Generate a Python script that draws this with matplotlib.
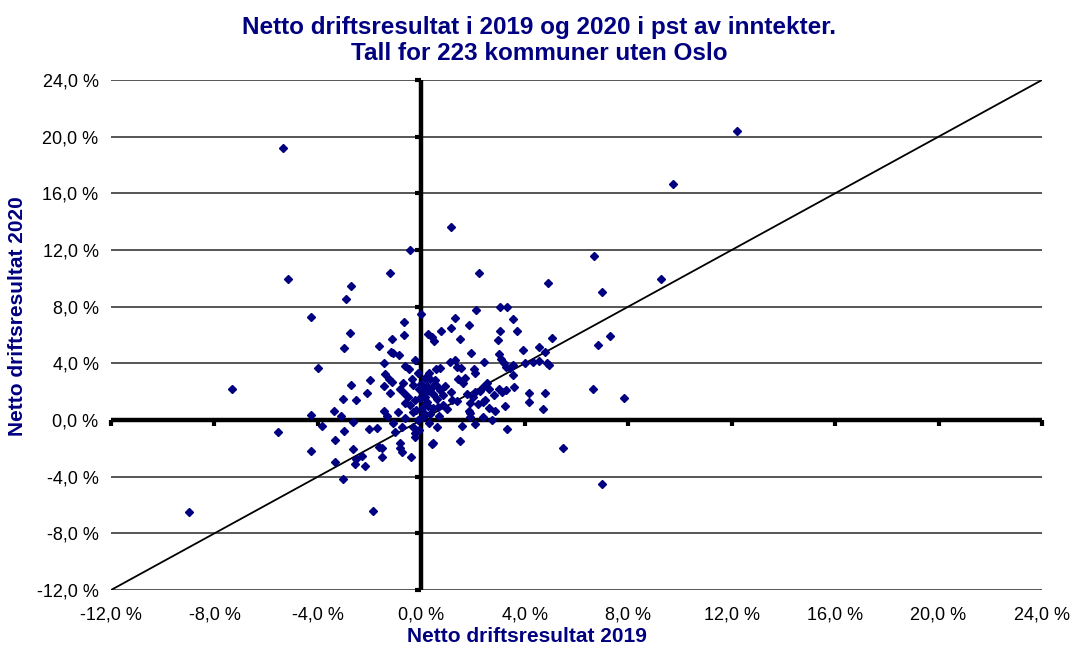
import numpy as np
import matplotlib
matplotlib.use("Agg")
import matplotlib.pyplot as plt
from matplotlib.ticker import FuncFormatter

plt.rcParams['font.family'] = ['Liberation Sans', 'DejaVu Sans']

# Netto driftsresultat (pst av inntekter), 2019 (x) og 2020 (y)
res_2019 = [
    -5.34, 12.2, 9.73, 1.16, -0.44, -1.22, -5.15, -2.72, -2.92, 2.24,
    2.1, 1.31, -0.02, -4.27, 6.69, 4.91, 9.28, 6.98, 3.06, 3.31,
    3.53, -0.69, -2.74, -0.69, 0.27, -2.98, -1.13, -1.64, -1.17, -0.86,
    -1.08, -0.24, -1.45, -4.01, -0.62, -0.49, -0.13, -1.39, -1.25, -1.98,
    -2.72, -1.45, -0.35, -0.31, 0.19, -7.32, -2.11, -1.21, -0.82, -0.69,
    -3.04, -2.51, -0.50, 0.01, -0.63, -0.44, 0.08, -3.39, -1.45, -0.89,
    -4.27, -3.12, -1.33, -0.31, -0.62, -0.14, -2.63, -1.08, -3.85, -0.75,
    -0.31, -2.01, -1.72, -5.54, -2.98, -1.02, -0.24, -0.11, -3.35, -0.82,
    -1.65, -1.52, -0.82, -2.63, -4.27, -0.76, -2.28, -1.53, -0.40, -2.54,
    -3.35, -2.55, -2.16, -3.04, -1.87, -9.0, -0.70, -1.15, 0.40, 0.50,
    0.75, 1.14, 1.84, 3.71, 3.04, 1.51, 2.98, 5.04, 3.92, 4.54,
    4.80, 1.91, 3.02, 3.08, 3.20, 3.28, 3.43, 1.11, 1.30, 2.42,
    1.37, 1.53, 2.03, 2.08, 0.57, 0.72, 4.01, 4.33, 4.56, 4.85,
    3.56, 1.43, 1.70, 0.14, 0.34, 0.53, -0.02, 0.21, 0.46, 2.54,
    2.37, 2.27, 3.60, 2.61, 2.99, 3.11, 3.28, 2.08, 1.14, 4.16,
    4.80, 6.63, 7.84, 0.72, 0.83, 0.05, 0.34, 0.46, -0.05, 0.14,
    0.21, 1.76, 2.01, 2.82, 1.18, 1.37, 1.90, 2.37, 2.46, 3.22,
    4.16, 2.63, 2.85, 1.86, 4.72, 0.46, 0.66, 0.83, -0.20, 1.88,
    1.88, 2.40, 2.75, 0.08, 0.31, 0.62, 1.57, 2.08, 3.30, -0.24,
    0.46, 0.40, 1.48, 5.49, 6.98, 6.82, 7.30, 3.55, 4.95, 0.25,
    0.60, 0.90, 0.10, -0.10, 0.35, 0.70, 1.00, 0.55, -0.25, 0.30,
    0.15, 1.60, 2.20,
]
res_2020 = [
    19.2, 20.37, 16.63, 13.6, 11.98, 10.35, 9.97, 9.48, 8.55, 10.4,
    7.74, 7.22, 7.46, 7.29, 11.57, 9.65, 9.93, 9.06, 7.95, 8.0,
    7.1, 6.92, 6.16, 6.02, 6.05, 5.10, 5.69, 5.22, 4.80, 4.56,
    4.75, 4.23, 4.0, 3.65, 3.83, 3.57, 3.29, 3.25, 2.87, 2.80,
    2.49, 2.40, 2.87, 2.45, 2.92, 2.17, 1.88, 1.93, 2.17, 1.88,
    1.46, 1.41, 1.64, 1.64, 1.18, 1.06, 0.94, 0.66, 0.66, 0.54,
    0.37, 0.28, 0.28, 0.59, 0.12, 0.0, -0.17, -0.19, -0.42, -0.47,
    -0.47, -0.66, -0.59, -0.87, -0.78, -0.85, -0.94, -0.71, -1.41, -1.60,
    -1.88, -1.95, -1.95, -2.07, -2.21, -2.24, -2.54, -2.59, -2.61, -2.77,
    -2.96, -3.10, -3.25, -4.19, -6.44, -6.5, 2.63, 2.70, 5.88, 5.60,
    6.30, 6.49, 6.70, 6.26, 6.26, 5.74, 5.67, 5.79, 4.96, 5.15,
    4.80, 4.73, 4.64, 4.30, 4.0, 3.76, 3.65, 4.09, 4.23, 4.07,
    3.76, 3.69, 3.58, 3.34, 3.58, 3.65, 4.05, 4.07, 4.19, 4.0,
    3.15, 2.89, 2.94, 2.94, 2.89, 2.82, 2.54, 2.40, 2.40, 2.59,
    2.31, 2.07, 2.33, 2.17, 2.19, 2.0, 2.12, 2.0, 2.0, 1.88,
    1.93, 2.21, 1.55, 2.12, 1.76, 2.12, 2.07, 1.83, 1.53, 1.64,
    1.29, 1.81, 1.64, 1.76, 1.41, 1.36, 1.22, 1.29, 1.41, 0.99,
    1.25, 0.83, 0.64, 0.64, 0.75, 0.83, 0.94, 1.06, 0.71, 0.24,
    0.47, 0.24, 0.0, 0.19, -0.19, -0.52, -0.42, -0.31, -0.66, -1.2,
    -1.6, -1.71, -1.50, -1.98, -4.54, 5.29, 5.95, 3.90, 3.85, 1.00,
    1.50, 2.40, 0.50, 2.20, 0.40, 0.30, 0.80, 2.50, 1.40, 3.30,
    1.90, 2.60, 1.10,
]

ticks = [-12, -8, -4, 0, 4, 8, 12, 16, 20, 24]
title = "Netto driftsresultat i 2019 og 2020 i pst av inntekter.\nTall for 223 kommuner uten Oslo"
navy = "#000080"

fig = plt.figure(figsize=(10.78, 6.51), dpi=100)
ax = fig.add_axes([0.103, 0.0937, 0.8636, 0.7834])

ax.set_xlim(-12, 24)
ax.set_ylim(-12, 24)

# horisontale gitterlinjer
for t in ticks:
    ax.axhline(t, color="#3a3a3a", lw=1.2, zorder=1)

# akser gjennom null
ax.axhline(0, color="black", lw=3.2, zorder=2)
ax.axvline(0, color="black", lw=3.2, zorder=2)
ax.plot(ticks, [0] * len(ticks), ls="none", marker=3, ms=4, mew=3, color="black", clip_on=False, zorder=2)
ax.plot([0] * len(ticks), ticks, ls="none", marker=0, ms=4, mew=3, color="black", clip_on=False, zorder=2)

# diagonal y = x
ax.plot([-12, 24], [-12, 24], color="black", lw=1.3, zorder=3)

ax.plot(res_2019, res_2020, ls="none", marker="D", ms=4.0, color=navy, mec=navy, zorder=4)

fmt = FuncFormatter(lambda v, p: ("%.1f %%" % v).replace(".", ","))
ax.set_xticks(ticks)
ax.set_yticks(ticks)
ax.xaxis.set_major_formatter(fmt)
ax.yaxis.set_major_formatter(fmt)
ax.tick_params(axis="y", length=0, labelsize=13, pad=9)
ax.tick_params(axis="x", length=0, labelsize=13, pad=12)
for s in ax.spines.values():
    s.set_visible(False)

fig.text(0.5, 0.975, title, ha="center", va="top", fontsize=17.5, fontweight="bold",
         color=navy, linespacing=1.15)
fig.text(0.489, 0.022, "Netto driftsresultat 2019", ha="center", va="center",
         fontsize=15, fontweight="bold", color=navy)
fig.text(0.016, 0.514, "Netto driftsresultat 2020", ha="center", va="center", rotation=90,
         fontsize=15, fontweight="bold", color=navy)

fig.savefig("out.png", dpi=100, facecolor="white")
